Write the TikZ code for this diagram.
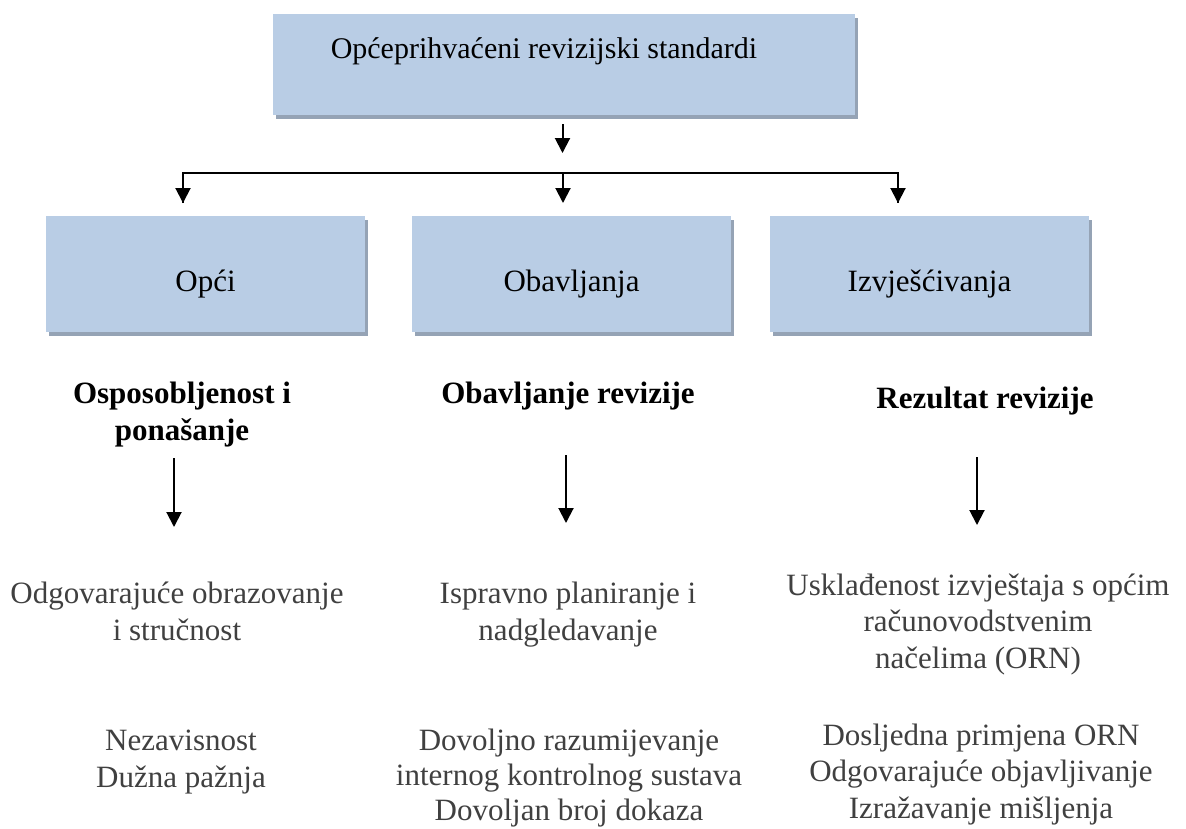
\documentclass[tikz,border=0pt]{standalone}
\usepackage{fontspec}
\setmainfont{Liberation Serif}
\usetikzlibrary{arrows.meta,shadows}
\definecolor{boxfill}{HTML}{B9CDE5}
\definecolor{boxshadow}{HTML}{95A3B5}
\definecolor{graytext}{HTML}{404040}
\begin{document}
\begin{tikzpicture}[x=1pt,y=-1pt,
  box/.style={rectangle,fill=boxfill,inner sep=0pt,minimum width=319pt,minimum height=116pt,
    drop shadow={shadow xshift=3pt,shadow yshift=-4pt,fill=boxshadow,opacity=1}},
  boxtext/.style={anchor=base,inner sep=0pt,font=\fontsize{31}{36.5}\selectfont},
  head/.style={anchor=base,inner sep=0pt,align=center,font=\fontsize{31}{37}\selectfont\bfseries},
  item/.style={anchor=base,inner sep=0pt,align=center,text=graytext,font=\fontsize{31}{36.3}\selectfont},
  conn/.style={line width=2pt,-{Triangle[width=15pt,length=15pt]}},
  plain/.style={line width=2pt}]
\useasboundingbox (0,0) rectangle (1186,828);

% top box
\node[box,minimum width=582pt,minimum height=101pt] (top) at (564,64.5) {};
\node[boxtext,font=\fontsize{30}{36}\selectfont] (toptxt) at (544,58) {Općeprihvaćeni revizijski standardi};

% category boxes
\node[box] (b1) at (205.5,274) {};
\node[box] (b2) at (571.5,274) {};
\node[box] (b3) at (929.5,274) {};
\node[boxtext] (b1t) at (205.5,291) {Opći};
\node[boxtext] (b2t) at (571.5,291) {Obavljanja};
\node[boxtext] (b3t) at (929.5,291) {Izvješćivanja};

% connector coordinates
\coordinate (s0) at (562.5,124);
\coordinate (e0) at (562.5,153);
\coordinate (hl) at (183,173);
\coordinate (hm) at (563,173);
\coordinate (hr) at (898,173);
\coordinate (el) at (183,203);
\coordinate (em) at (563,203);
\coordinate (er) at (898,203);

\draw[conn] (s0) -- (e0);
\draw[plain] (hl |- el) -- (hl) -- (hr) -- (hr |- el);
\draw[conn] (hl) -- (el);
\draw[conn] (hm) -- (em);
\draw[conn] (hr) -- (er);

% headings (anchor = baseline of last line)
\node[head] (h1) at (182,440) {Osposobljenost i\\ponašanje};
\node[head] (h2) at (568,403) {Obavljanje revizije};
\node[head] (h3) at (985,408) {Rezultat revizije};

\coordinate (a1s) at (174,458);
\coordinate (a1e) at (174,527);
\coordinate (a2s) at (566,455);
\coordinate (a2e) at (566,523);
\coordinate (a3s) at (977,457);
\coordinate (a3e) at (977,525);
\draw[conn] (a1s) -- (a1e);
\draw[conn] (a2s) -- (a2e);
\draw[conn] (a3s) -- (a3e);

% items (anchor = baseline of last line)
\node[item] (t1a) at (177,640) {Odgovarajuće obrazovanje\\i stručnost};
\node[item] (t1b) at (181,787) {Nezavisnost\\Dužna pažnja};
\node[item] (t2a) at (568,640) {Ispravno planiranje i\\nadgledavanje};
\node[item,font=\fontsize{31}{35}\selectfont] (t2b) at (569,820) {Dovoljno razumijevanje\\internog kontrolnog sustava\\Dovoljan broj dokaza};
\node[item] (t3a) at (978,668) {Usklađenost izvještaja s općim\\računovodstvenim\\načelima (ORN)};
\node[item] (t3b) at (981,818) {Dosljedna primjena ORN\\Odgovarajuće objavljivanje\\Izražavanje mišljenja};
\end{tikzpicture}
\end{document}
